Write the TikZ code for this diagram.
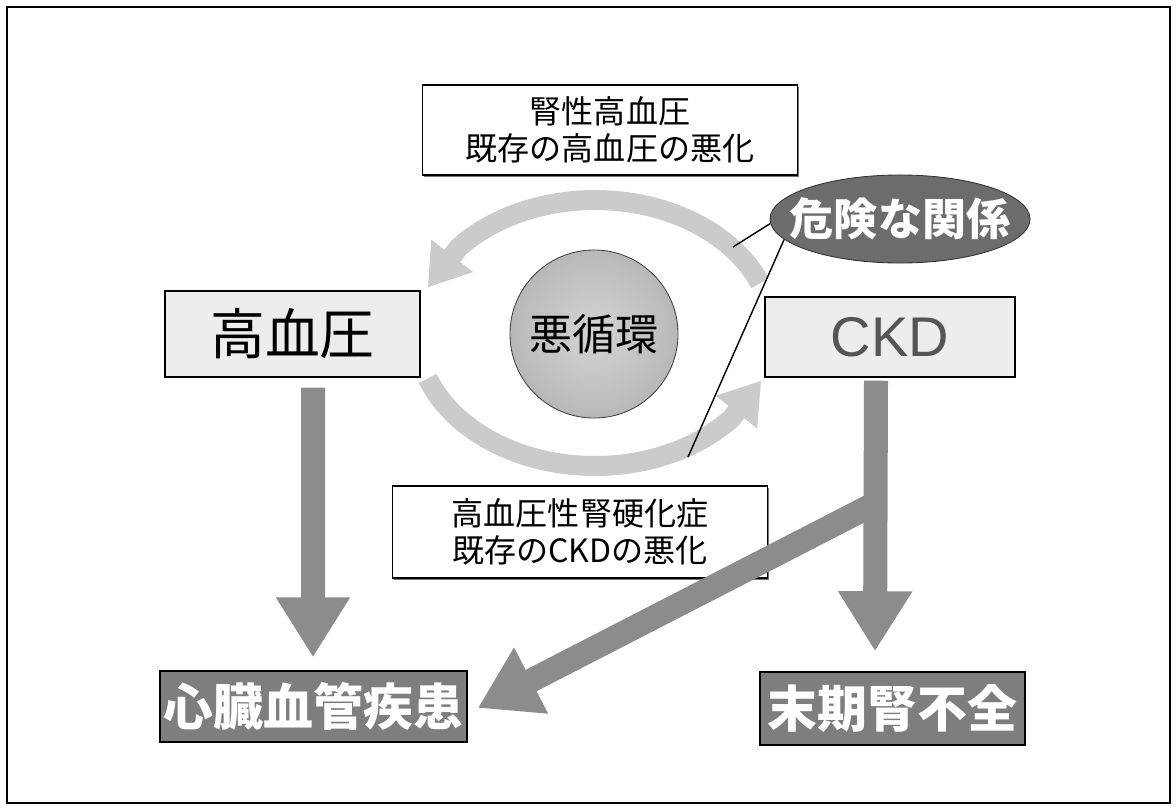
\documentclass[tikz,border=0pt]{standalone}
\usepackage{fontspec}
\newfontfamily\jp{Noto Sans CJK JP}
\newfontfamily\arial{Liberation Sans}
\usetikzlibrary{arrows.meta,shapes.geometric,calc,shadows}
\definecolor{ringgray}{HTML}{CBCBCB}
\definecolor{arrowgray}{HTML}{8C8C8C}
\definecolor{darkbox}{HTML}{7E7E7E}
\definecolor{lightbox}{HTML}{EDEDED}
\definecolor{ellgray}{HTML}{6C6C6C}
\definecolor{ckdtext}{HTML}{555555}
\definecolor{sphin}{HTML}{D4D4D4}
\definecolor{sphmid}{HTML}{BCBCBC}
\definecolor{sphout}{HTML}{8A8A8A}
\pgfdeclareradialshading{sphshade}{\pgfpoint{0bp}{0bp}}{color(0bp)=(sphin); color(22bp)=(sphmid); color(50bp)=(sphout)}
\begin{document}
\begin{tikzpicture}[x=0.025cm,y=-0.025cm,
  notebox/.style={draw=black, line width=1pt, fill=white, inner sep=0pt, align=center,
    minimum width=9.375cm, font=\jp\fontsize{22.8}{26.3}\selectfont,
    drop shadow={shadow xshift=1.2pt, shadow yshift=-1.2pt, fill=black!55, opacity=1}},
  keybox/.style={draw=black, line width=1pt, fill=lightbox, inner sep=0pt},
  endbox/.style={draw=black, line width=1pt, fill=darkbox, inner sep=0pt, text=white,
    font=\jp\bfseries\fontsize{35.5}{40}\selectfont},
  bigarrow/.style={draw=arrowgray, line width=0.6cm, -{Triangle[width=1.75cm,length=1.5cm]}},
  ringarrow/.style={draw=ringgray, line width=0.5cm, -{Triangle[width=1.25cm,length=1.0cm]}},
  pointer/.style={draw=black, line width=1pt}]
\useasboundingbox (0,0) rectangle (1176,811);
\draw[line width=0.8pt] (7,7) rectangle (1170,803);

% vicious-circle ring arrows
\draw[ringarrow] plot[domain=-22:-140, samples=50] ({595+178*cos(\x)},{333+133*sin(\x)})
  -- ({595+178*cos(-160)},{333+133*sin(-160)});
\draw[ringarrow] plot[domain=160:40, samples=50] ({595+178*cos(\x)},{333+133*sin(\x)})
  -- ({595+178*cos(21)},{333+133*sin(21)});

% sphere
\node[circle, minimum size=4.2cm, inner sep=0pt, draw=black!75, line width=0.6pt,
  shade, shading=sphshade,
  font=\jp\fontsize{30.6}{34}\selectfont] (vc) at (594,334) {悪循環};

% note boxes
\node[notebox, minimum height=2.25cm] (top) at (610,130) {腎性高血圧\\既存の高血圧の悪化};
\node[notebox, minimum height=2.3cm] (bot) at (580,532) {高血圧性腎硬化症\\既存のCKDの悪化};

% key boxes
\node[keybox, minimum width=6.375cm, minimum height=2.15cm, font=\jp\fontsize{39}{42}\selectfont]
  (hbp) at (292.5,334) {高血圧};
\node[keybox, minimum width=6.25cm, minimum height=2.0cm, text=ckdtext, font=\arial\fontsize{39.8}{44}\selectfont]
  (ckd) at (890,337) {CKD};

% outcome boxes
\node[endbox, minimum width=7.675cm, minimum height=1.775cm] (cvd) at (313.5,706.5) {心臓血管疾患};
\node[endbox, minimum width=6.625cm, minimum height=1.825cm] (esrd) at (892.5,708.5) {末期腎不全};

% big arrows
\coordinate (dstart) at (876,503);
\draw[bigarrow] (dstart) -- ($(cvd.east)+(10,1.5)$);
\draw[bigarrow] ($(hbp.south)+(20.5,10)$) -- ($(cvd.north)+(-0.5,-13)$);
\draw[bigarrow] ($(ckd.south)+(-14,3)$) -- ($(esrd.north)+(-17.5,-20)$);

% danger ellipse
\node[ellipse, fill=ellgray, draw=black!80, line width=0.6pt, minimum width=6.5cm, minimum height=2.2cm,
  inner sep=0pt, label={[text=white, font=\jp\bfseries\fontsize{31.3}{34}\selectfont]center:危険な関係}]
  (ell) at (900,219) {};
\coordinate (p1) at (733,247);
\coordinate (p2) at (688,457);
\draw[pointer] (ell.182) -- (p1);
\draw[pointer] (ell.190) -- (p2);
\end{tikzpicture}
\end{document}
